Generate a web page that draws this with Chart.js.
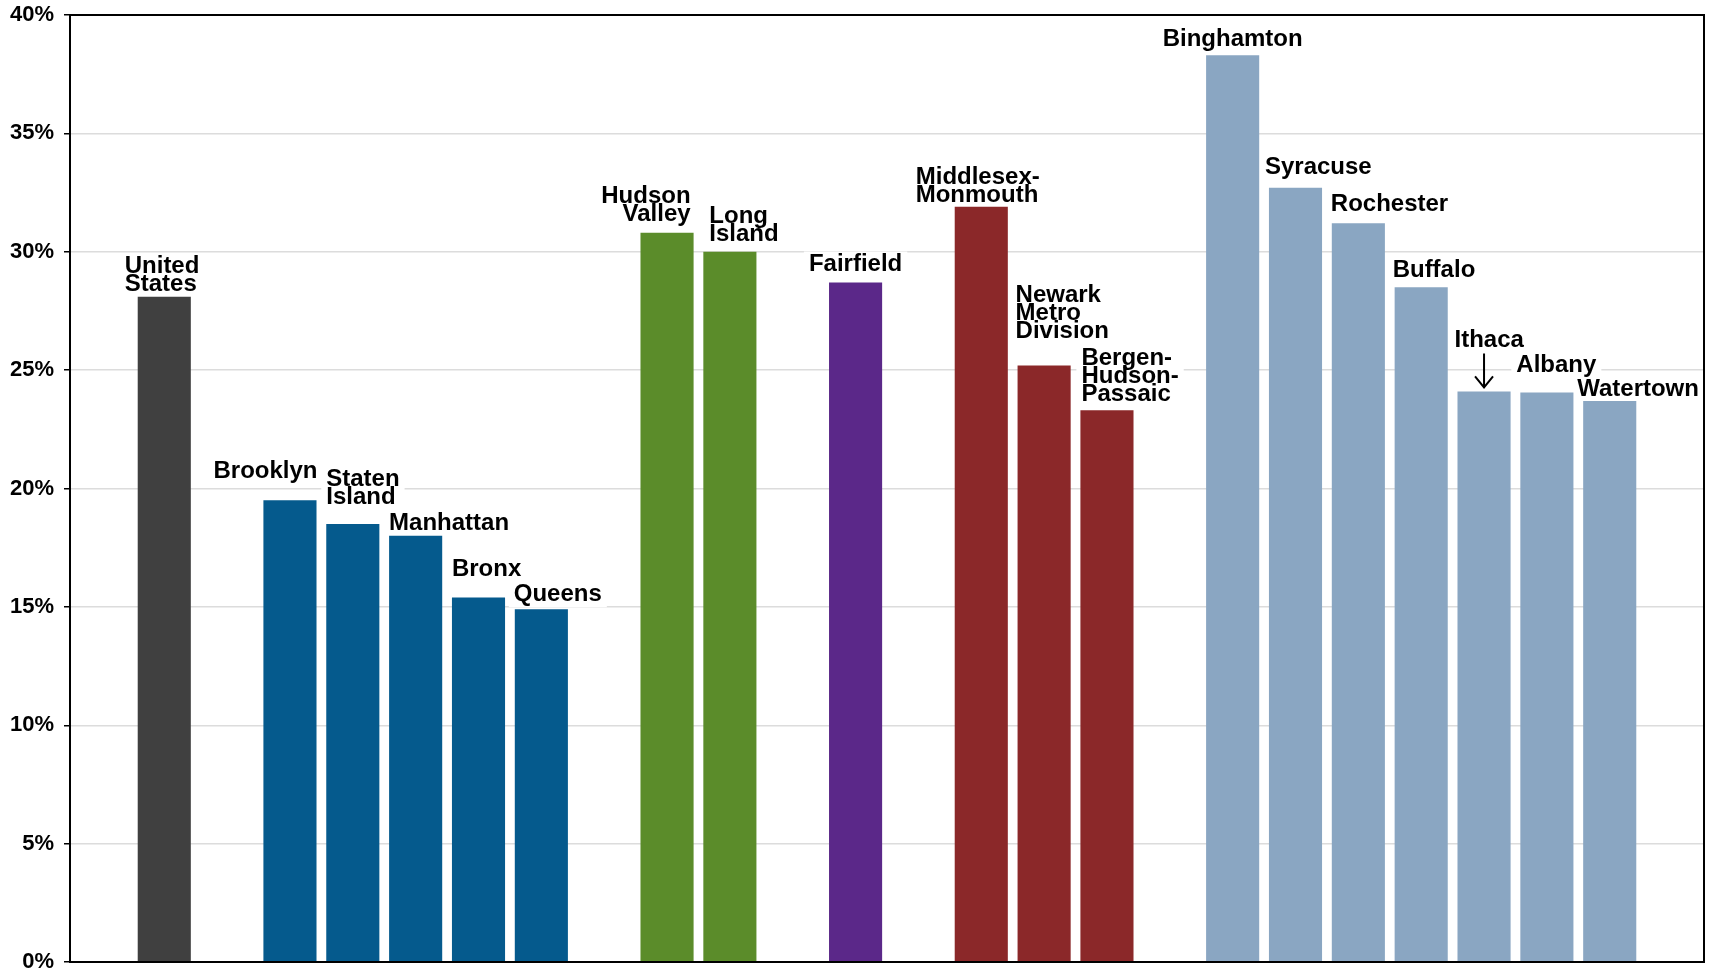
<!DOCTYPE html>
<html lang="en">
<head>
<meta charset="UTF-8">
<title>Metro areas</title>
<script src="https://cdn.jsdelivr.net/npm/chart.js"></script>
<style>
  html, body { margin: 0; padding: 0; background: #fff; }
  #wrap { width: 1714px; height: 973px; }
</style>
</head>
<body>
<div id="wrap"><canvas id="metroChart"></canvas></div>
<script>
// bar names, one array entry per printed line; '' = empty spacer slot between groups
const areas = [
  '', ['United', 'States'], '',
  ['Brooklyn'], ['Staten', 'Island'], ['Manhattan'], ['Bronx'], ['Queens'], '',
  ['Hudson', 'Valley'], ['Long', 'Island'], '',
  ['Fairfield'], '',
  ['Middlesex-', 'Monmouth'], ['Newark', 'Metro', 'Division'], ['Bergen-', 'Hudson-', 'Passaic'], '',
  ['Binghamton'], ['Syracuse'], ['Rochester'], ['Buffalo'], ['Ithaca'], ['Albany'], ['Watertown'], ''
];

// percent values
const shares = [
  null, 28.1, null,
  19.5, 18.5, 18.0, 15.4, 14.9, null,
  30.8, 30.0, null,
  28.7, null,
  31.9, 25.2, 23.3, null,
  38.3, 32.7, 31.2, 28.5, 24.1, 24.05, 23.7, null
];

// which group each bar belongs to
const groups = [
  '', 'us', '',
  'nyc', 'nyc', 'nyc', 'nyc', 'nyc', '',
  'hv', 'hv', '',
  'ct', '',
  'nj', 'nj', 'nj', '',
  'up', 'up', 'up', 'up', 'up', 'up', 'up', ''
];

const yMax = 40;
const yStep = 5;

const groupColors = {
  us: '#404040',
  nyc: '#055a8d',
  hv: '#5b8c2a',
  ct: '#5b2889',
  nj: '#8b2829',
  up: '#8aa6c2',
  '': '#ffffff'
};

// where each name sits relative to its bar: align to bar edge/centre, x shift, gap from bar top to last baseline
const labelPlacement = [
  null, { align: 'left', dx: -13, gap: 6 }, null,
  { align: 'right', dx: 1, gap: 22 },
  { align: 'left', dx: 0, gap: 20 },
  { align: 'left', dx: 0, gap: 6 },
  { align: 'left', dx: 0, gap: 21 },
  { align: 'left', dx: -1, gap: 8 },
  null,
  { align: 'right', dx: -3, gap: 12 },
  { align: 'left', dx: 6, gap: 11 },
  null,
  { align: 'center', dx: 0, gap: 12 },
  null,
  { align: 'left', dx: -39, gap: 5 },
  { align: 'left', dx: -2, gap: 27 },
  { align: 'left', dx: 1, gap: 9 },
  null,
  { align: 'center', dx: 0, gap: 9 },
  { align: 'left', dx: -4, gap: 14 },
  { align: 'left', dx: -1, gap: 12 },
  { align: 'left', dx: -2, gap: 10 },
  { align: 'left', dx: -3, gap: 44, arrow: true },
  { align: 'left', dx: -4, gap: 21 },
  { align: 'left', dx: -6, gap: 5 },
  null
];

const labelFont = 'bold 24px "Liberation Sans", Arial, sans-serif';
const lineStep = 18;

function placeLabels(chart) {
  const ctx = chart.ctx;
  const meta = chart.getDatasetMeta(0);
  const out = [];
  ctx.save();
  ctx.font = labelFont;
  meta.data.forEach(function (bar, i) {
    const p = labelPlacement[i];
    if (!p || shares[i] == null) return;
    const lines = areas[i];
    const widths = lines.map(function (t) { return ctx.measureText(t).width; });
    const maxW = Math.max.apply(null, widths);
    const half = bar.width / 2;
    let anchor = bar.x + p.dx;
    if (p.align === 'left') anchor = bar.x - half + p.dx;
    if (p.align === 'right') anchor = bar.x + half + p.dx;
    const lastBase = bar.y - p.gap;
    const firstBase = lastBase - (lines.length - 1) * lineStep;
    let left = anchor;
    if (p.align === 'right') left = anchor - maxW;
    if (p.align === 'center') left = anchor - maxW / 2;
    out.push({ p: p, bar: bar, lines: lines, widths: widths, anchor: anchor,
               firstBase: firstBase, lastBase: lastBase, left: left, maxW: maxW });
  });
  ctx.restore();
  return out;
}

const barNames = {
  id: 'barNames',
  beforeDatasetsDraw(chart) {
    // white boxes behind the names so gridlines stop around them
    const ctx = chart.ctx;
    ctx.save();
    ctx.fillStyle = '#ffffff';
    placeLabels(chart).forEach(function (l) {
      ctx.fillRect(l.left - 5, l.firstBase - 19, l.maxW + 10, l.lastBase - l.firstBase + 25);
    });
    ctx.restore();
  },
  afterDatasetsDraw(chart) {
    const ctx = chart.ctx;
    const area = chart.chartArea;
    ctx.save();
    ctx.font = labelFont;
    ctx.fillStyle = '#000000';
    ctx.textBaseline = 'alphabetic';
    ctx.textAlign = 'left';
    placeLabels(chart).forEach(function (l) {
      l.lines.forEach(function (t, k) {
        let x = l.anchor;
        if (l.p.align === 'right') x = l.anchor - l.widths[k];
        if (l.p.align === 'center') x = l.anchor - l.widths[k] / 2;
        ctx.fillText(t, x, l.firstBase + k * lineStep);
      });
      if (l.p.arrow) {
        const ax = l.bar.x;
        const y0 = l.lastBase + 6;
        const y1 = l.bar.y - 4;
        ctx.strokeStyle = '#000000';
        ctx.lineWidth = 2;
        ctx.beginPath();
        ctx.moveTo(ax, y0);
        ctx.lineTo(ax, y1);
        ctx.moveTo(ax - 9, y1 - 11);
        ctx.lineTo(ax, y1);
        ctx.lineTo(ax + 9, y1 - 11);
        ctx.stroke();
      }
    });
    // plot frame
    ctx.strokeStyle = '#000000';
    ctx.lineWidth = 2;
    ctx.strokeRect(area.left, area.top, area.right - area.left, area.bottom - area.top);
    ctx.restore();
  }
};

new Chart(document.getElementById('metroChart'), {
  type: 'bar',
  data: {
    labels: areas,
    datasets: [{
      data: shares,
      backgroundColor: groups.map(function (g) { return groupColors[g]; }),
      borderWidth: 0,
      barPercentage: 0.845,
      categoryPercentage: 1.0
    }]
  },
  options: {
    responsive: true,
    maintainAspectRatio: false,
    animation: false,
    layout: { padding: { top: 15, right: 10, bottom: 11, left: 0 } },
    plugins: {
      legend: { display: false },
      tooltip: { enabled: false }
    },
    scales: {
      x: {
        ticks: { display: false },
        grid: { display: false, drawTicks: false },
        border: { display: false },
        afterFit(scale) {
          scale.height = 0;
          scale.paddingLeft = 0;
          scale.paddingRight = 0;
        }
      },
      y: {
        min: 0,
        max: yMax,
        ticks: {
          stepSize: yStep,
          padding: 10,
          color: '#000000',
          font: { family: '"Liberation Sans", Arial, sans-serif', size: 22, weight: 'bold' },
          callback: function (v) { return v + '%'; }
        },
        grid: {
          color: '#dcdcdc',
          lineWidth: 1.5,
          tickLength: 6,
          tickColor: '#000000',
          tickWidth: 1.5
        },
        border: { display: false },
        afterFit(scale) {
          scale.width = 70;
          scale.paddingTop = 0;
          scale.paddingBottom = 0;
        }
      }
    }
  },
  plugins: [barNames]
});
</script>
</body>
</html>
